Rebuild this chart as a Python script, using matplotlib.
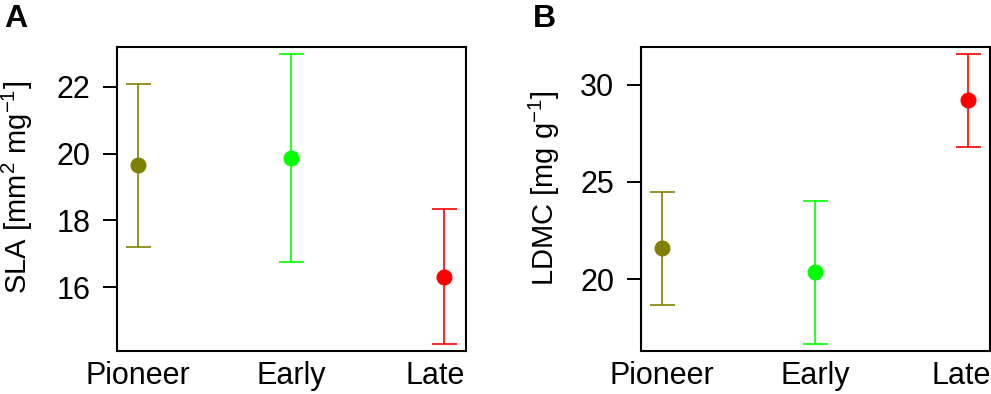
import matplotlib
matplotlib.use("Agg")
import matplotlib.pyplot as plt
import matplotlib.transforms as mtransforms
import numpy as np

plt.rcParams["font.family"] = ["Liberation Sans", "DejaVu Sans"]
plt.rcParams["mathtext.fontset"] = "custom"
plt.rcParams["mathtext.rm"] = "Liberation Sans"
plt.rcParams["mathtext.default"] = "rm"

stages = ["Pioneer", "Early", "Late"]
colors = ["#808000", "#00FF00", "#FF0000"]

sla_mean = [19.66, 19.86, 16.31]
sla_low = [17.20, 16.74, 14.29]
sla_high = [22.09, 22.99, 18.33]

ldmc_mean = [21.58, 20.34, 29.21]
ldmc_low = [18.68, 16.65, 26.80]
ldmc_high = [24.47, 24.02, 31.60]

panels = [
    ("A", "SLA [mm$^{2}$ mg$^{-1}$]", sla_mean, sla_low, sla_high,
     (14.08, 23.2), [16, 18, 20, 22], 0.118, 0.016, 0.0175, -0.09),
    ("B", "LDMC [mg g$^{-1}$]", ldmc_mean, ldmc_low, ldmc_high,
     (16.29, 31.96), [20, 25, 30], 0.6465, 0.549, 0.549, -0.07),
]

fig = plt.figure(figsize=(9.91, 3.94), dpi=100)

for letter, ylabel, mean, low, high, ylim, yticks, left, xlet, xlab, shift in panels:
    ax = fig.add_axes([left, 0.109, 0.352, 0.772])
    x = np.arange(1, len(stages) + 1)
    mean = np.array(mean)
    err = [mean - np.array(low), np.array(high) - mean]
    for i in range(len(stages)):
        ax.errorbar(x[i], mean[i], yerr=[[err[0][i]], [err[1][i]]], fmt="o",
                    color=colors[i], ms=10.5, elinewidth=1.2, capsize=9,
                    capthick=1.2)
    ax.set_xlim(0.86, 3.14)
    ax.set_ylim(*ylim)
    ax.set_yticks(yticks)
    ax.set_xticks(x)
    ax.set_xticklabels(stages)
    ax.tick_params(axis="y", length=10, width=1.4, pad=9, labelsize=22)
    ax.tick_params(axis="x", length=0, pad=7, labelsize=22)
    # R puts the last label a bit left of its point
    lab = ax.get_xticklabels()[-1]
    lab.set_transform(lab.get_transform() +
                      mtransforms.ScaledTranslation(shift, 0, fig.dpi_scale_trans))
    for sp in ax.spines.values():
        sp.set_linewidth(1.5)
    fig.text(xlet, 0.952, letter, fontsize=23, fontweight="bold",
             ha="center", va="center")
    fig.text(xlab, 0.523, ylabel, fontsize=21, rotation=90,
             ha="center", va="center")

fig.savefig("out.png", dpi=100)
